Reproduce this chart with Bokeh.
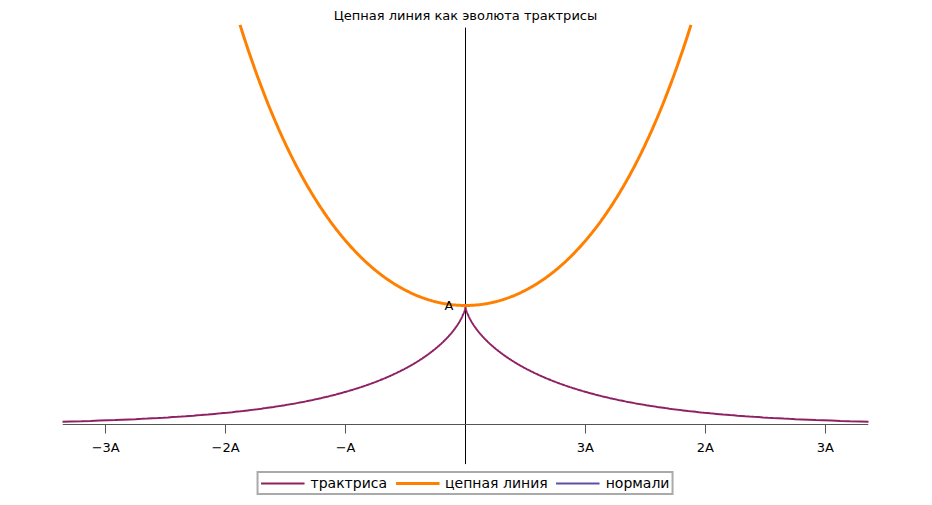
import numpy as np
from bokeh.plotting import figure
from bokeh.models import Label, Legend, LegendItem, FixedTicker
from bokeh.embed import file_html
from bokeh.resources import INLINE

A = 1.0
tick_pos = [-3, -2, -1, 1, 2, 3]
tick_labels = ["\u22123A", "\u22122A", "\u2212A", "3A", "2A", "3A"]
title = "Цепная линия как эволюта трактрисы"
names = ["трактриса", "цепная линия", "нормали"]
colors = ["#8E2163", "#FF8000", "#5A50A8"]

# tractrix (parameter y from A down), catenary y = A*cosh(x/A)
ty = np.linspace(A, 0.025, 400)
tx = A * np.arccosh(A / ty) - np.sqrt(A**2 - ty**2)
cx = np.linspace(-1.88, 1.88, 400)
cy = A * np.cosh(cx / A)

p = figure(width=924, height=497, x_range=(-3.36, 3.36), y_range=(-0.61, 3.49),
           output_backend="svg", toolbar_location=None,
           min_border_left=62, min_border_right=56, min_border_top=8, min_border_bottom=0)
p.outline_line_color = None
p.grid.visible = False
p.yaxis.visible = False
ax = p.xaxis[0]
ax.fixed_location = 0
ax.ticker = FixedTicker(ticks=tick_pos)
ax.major_label_overrides = {t: l for t, l in zip(tick_pos, tick_labels)}
ax.minor_tick_line_color = None
ax.major_tick_in = 0
ax.major_tick_out = 9
ax.axis_line_color = "#555555"
ax.major_tick_line_color = "#555555"
ax.major_label_text_font = "DejaVu Sans"
ax.major_label_text_font_size = "13px"
ax.major_label_text_color = "black"
ax.major_label_standoff = 6

p.segment(x0=[0], y0=[-0.33], x1=[0], y1=[3.33], line_color="black", line_width=1)
r1 = p.line(tx, ty, line_color=colors[0], line_width=2)
p.line(-tx, ty, line_color=colors[0], line_width=2)
r2 = p.line(cx, cy, line_color=colors[1], line_width=3)
# normals: not visible in the picture, kept only for the legend
r3 = p.line([10, 11], [10, 10], line_color=colors[2], line_width=2)

p.add_layout(Label(x=0, y=3.37, text=title, text_align="center", text_baseline="bottom",
                   text_font="DejaVu Sans", text_font_size="13px", text_color="black"))
p.add_layout(Label(x=-0.1, y=A, text="A", text_align="right", text_baseline="middle",
                   text_font="DejaVu Sans", text_font_size="13px", text_color="black"))

legend = Legend(items=[LegendItem(label=n, renderers=[r]) for n, r in zip(names, [r1, r2, r3])],
                location="bottom_center", orientation="horizontal",
                border_line_color="#555555", border_line_width=2,
                label_text_font="DejaVu Sans", label_text_font_size="14px",
                label_text_color="black",
                padding=2, spacing=8, margin=2, glyph_width=44, glyph_height=14,
                label_height=14, label_standoff=6)
p.add_layout(legend)

open("out.html", "w").write(file_html(p, INLINE))
